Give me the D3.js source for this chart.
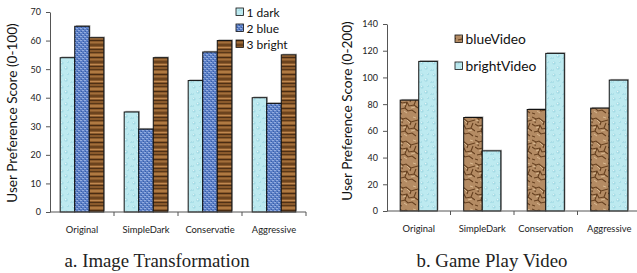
<!DOCTYPE html>
<html>
<head>
<meta charset="utf-8">
<script src="https://cdn.jsdelivr.net/npm/d3@7"></script>
<style>
  body { margin: 0; background: #fff; }
  svg { display: block; }
  .tick text { font-family: Lato, "Open Sans", sans-serif; }
</style>
</head>
<body>
<svg id="chart" width="637" height="273"></svg>
<script>
// left chart: image transformation
const imgCategories = ['Original', 'SimpleDark', 'Conservatie', 'Aggressive'];
const imgSeries = ['1 dark', '2 blue', '3 bright'];
const imgDark = [54, 35, 46, 40];
const imgBlue = [65, 29, 56, 38];
const imgBright = [61, 54, 60, 55];
const imgTicks = [0, 10, 20, 30, 40, 50, 60, 70];

// right chart: game play video
const vidCategories = ['Original', 'SimpleDark', 'Conservation', 'Aggressive'];
const vidSeries = ['blueVideo', 'brightVideo'];
const vidBlue = [83, 70, 76, 77];
const vidBright = [112, 45, 118, 98];
const vidTicks = [0, 20, 40, 60, 80, 100, 120, 140];

const svg = d3.select('#chart');
const defs = svg.append('defs');

// textures, roughly like the office fills
function droplets() {
  const p = defs.append('pattern').attr('id', 'drop')
    .attr('patternUnits', 'userSpaceOnUse').attr('width', 12).attr('height', 12);
  p.append('rect').attr('width', 12).attr('height', 12).attr('fill', '#bdeaf0');
  [[2, 3, 1.6], [8, 2, 1.1], [6, 8, 1.8], [11, 10, 1.0], [1, 10, 0.9]].forEach(d => {
    p.append('circle').attr('cx', d[0]).attr('cy', d[1]).attr('r', d[2])
      .attr('fill', '#a3dbe5');
    p.append('circle').attr('cx', d[0] - 0.4).attr('cy', d[1] - 0.4).attr('r', d[2] * 0.45)
      .attr('fill', '#e6f8fa');
  });
}
function weave() {
  const p = defs.append('pattern').attr('id', 'weave')
    .attr('patternUnits', 'userSpaceOnUse').attr('width', 4).attr('height', 4);
  p.append('rect').attr('width', 4).attr('height', 4).attr('fill', '#5b7fc6');
  p.append('rect').attr('x', 0).attr('y', 0).attr('width', 2).attr('height', 1).attr('fill', '#93acdf');
  p.append('rect').attr('x', 2).attr('y', 2).attr('width', 2).attr('height', 1).attr('fill', '#93acdf');
  p.append('rect').attr('x', 1).attr('y', 3).attr('width', 1).attr('height', 1).attr('fill', '#3a5da6');
  p.append('rect').attr('x', 3).attr('y', 1).attr('width', 1).attr('height', 1).attr('fill', '#3a5da6');
}
function wood() {
  const p = defs.append('pattern').attr('id', 'wood')
    .attr('patternUnits', 'userSpaceOnUse').attr('width', 24).attr('height', 17);
  p.append('rect').attr('width', 24).attr('height', 17).attr('fill', '#8a5a2c');
  const stripes = [[1, 1, '#5a3818'], [3, 2, '#b07a42'], [6, 1, '#4a2c12'], [8, 1, '#a36f3b'],
    [10, 2, '#6b431e'], [13, 1, '#c08850'], [15, 1, '#4f3015']];
  stripes.forEach(s => p.append('rect').attr('x', 0).attr('y', s[0])
    .attr('width', 24).attr('height', s[1]).attr('fill', s[2]));
}
function cracked() {
  const p = defs.append('pattern').attr('id', 'crack')
    .attr('patternUnits', 'userSpaceOnUse').attr('width', 19).attr('height', 23);
  p.append('rect').attr('width', 19).attr('height', 23).attr('fill', '#b48b63');
  p.append('path')
    .attr('d', 'M0,2 L4,4 L7,3 L12,7 L19,5 M0,9 L3,11 L8,10 L10,14 L15,13 L19,16 M4,4 L3,8 ' +
      'M12,7 L11,10 M2,17 L6,16 L9,19 L13,18 L17,21 M0,21 L3,22 M8,10 L6,16 M15,13 L17,8')
    .attr('fill', 'none').attr('stroke', '#66401f').attr('stroke-width', 1.1);
  p.append('path')
    .attr('d', 'M1,5 L4,6 M8,5 L11,8 M4,13 L7,12 M12,16 L16,15 M5,19 L8,21 M14,2 L17,3')
    .attr('fill', 'none').attr('stroke', '#d8b890').attr('stroke-width', 1);
}
droplets(); weave(); wood(); cracked();

function drawChart(o) {
  const g = svg.append('g');
  const x0 = d3.scaleBand().domain(o.categories).range(o.xRange).padding(0);
  const x1 = d3.scaleBand().domain(o.series).range([0, x0.bandwidth()])
    .paddingInner(0).paddingOuter(o.groupPad);
  const y = d3.scaleLinear().domain(o.yDomain).range(o.yRange);

  // y axis
  const yAxis = g.append('g').attr('transform', `translate(${o.xRange[0]},0)`)
    .call(d3.axisLeft(y).tickValues(o.ticks).tickSize(4).tickPadding(5).tickSizeOuter(0));
  yAxis.select('.domain').attr('stroke', '#555');
  yAxis.selectAll('.tick line').attr('stroke', '#555');
  yAxis.selectAll('.tick text').attr('font-size', 9).attr('fill', '#222');

  // bars
  o.values.forEach((vals, si) => {
    const s = o.series[si];
    const bars = g.append('g');
    bars.selectAll('rect.shadow').data(vals).join('rect')
      .attr('class', 'shadow')
      .attr('x', (d, i) => x0(o.categories[i]) + x1(s) + 1.2)
      .attr('y', d => y(d) - 1.2)
      .attr('width', x1.bandwidth())
      .attr('height', d => y(0) - y(d))
      .attr('fill', '#b0b0b0');
    bars.selectAll('rect.bar').data(vals).join('rect')
      .attr('class', 'bar')
      .attr('x', (d, i) => x0(o.categories[i]) + x1(s))
      .attr('y', d => y(d))
      .attr('width', x1.bandwidth())
      .attr('height', d => y(0) - y(d))
      .attr('fill', `url(#${o.fills[si]})`)
      .attr('stroke', '#111').attr('stroke-width', 1);
  });

  // x axis, ticks between groups
  const xb = y(0);
  g.append('line').attr('x1', o.xRange[0]).attr('x2', o.xRange[1])
    .attr('y1', xb).attr('y2', xb).attr('stroke', '#555');
  g.selectAll('line.sep').data(o.categories).join('line')
    .attr('class', 'sep')
    .attr('x1', d => x0(d) + x0.bandwidth()).attr('x2', d => x0(d) + x0.bandwidth())
    .attr('y1', xb).attr('y2', xb + 4).attr('stroke', '#555');
  g.selectAll('text.cat').data(o.categories).join('text')
    .attr('class', 'cat')
    .attr('x', d => x0(d) + x0.bandwidth() / 2)
    .attr('y', xb + 21)
    .attr('text-anchor', 'middle')
    .attr('font-family', 'Lato, "Open Sans", sans-serif')
    .attr('font-size', 9.4).attr('fill', '#222')
    .text(d => d);

  // y title
  g.append('text')
    .attr('transform', `translate(${o.titleX},${o.titleY}) rotate(-90)`)
    .attr('text-anchor', 'middle')
    .attr('font-family', 'Lato, "Open Sans", sans-serif')
    .attr('font-size', 13.6).attr('fill', '#111')
    .text(o.yTitle);

  // legend
  const lg = g.append('g');
  o.series.forEach((s, i) => {
    const ly = o.legend.y + i * o.legend.step;
    lg.append('rect').attr('x', o.legend.x).attr('y', ly - 4)
      .attr('width', 7.5).attr('height', 7.5)
      .attr('fill', `url(#${o.fills[i]})`).attr('stroke', '#111').attr('stroke-width', 0.8);
    lg.append('text').attr('x', o.legend.x + 10.5).attr('y', ly + 4.5)
      .attr('font-family', 'Lato, "Open Sans", sans-serif')
      .attr('font-size', o.legend.size).attr('fill', '#111')
      .text(s);
  });

  // caption
  g.append('text').attr('x', o.capX).attr('y', 267)
    .attr('text-anchor', 'middle')
    .attr('font-family', '"Liberation Serif", "Times New Roman", serif')
    .attr('font-size', 18.8).attr('fill', '#222')
    .text(o.caption);
}

drawChart({
  categories: imgCategories, series: imgSeries,
  values: [imgDark, imgBlue, imgBright], fills: ['drop', 'weave', 'wood'],
  xRange: [50, 306], groupPad: 0.7,
  yDomain: [0, 70], yRange: [212, 12], ticks: imgTicks,
  yTitle: 'User Preference Score (0-100)', titleX: 17, titleY: 113,
  legend: { x: 236, y: 12, step: 16, size: 12 },
  caption: 'a. Image Transformation', capX: 157
});

drawChart({
  categories: vidCategories, series: vidSeries,
  values: [vidBlue, vidBright], fills: ['crack', 'drop'],
  xRange: [387, 641], groupPad: 0.71,
  yDomain: [0, 140], yRange: [211, 24], ticks: vidTicks,
  yTitle: 'User Preference Score (0-200)', titleX: 352, titleY: 111,
  legend: { x: 455, y: 39, step: 27, size: 13.8 },
  caption: 'b. Game Play Video', capX: 492
});
</script>
</body>
</html>
